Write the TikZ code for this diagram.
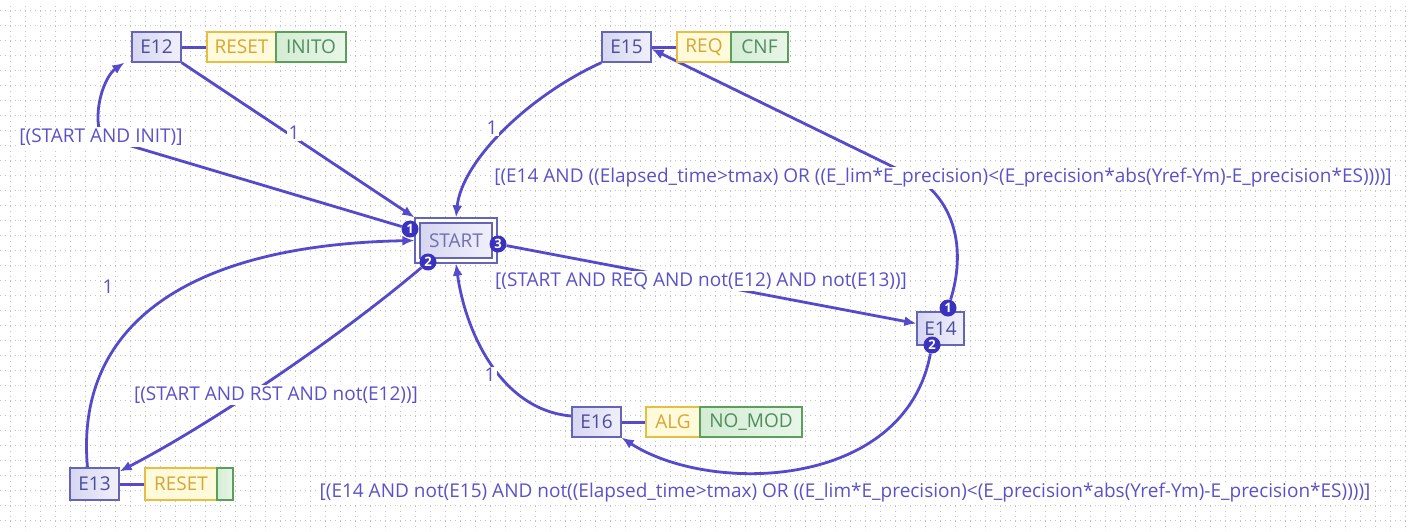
\documentclass[tikz,border=0pt]{standalone}
\usepackage{fontspec}
\setmainfont{Open Sans}
\usetikzlibrary{arrows.meta}

\definecolor{edgec}{HTML}{554ACB}
\definecolor{badgec}{HTML}{3A32BE}
\definecolor{lblc}{HTML}{5B52C9}
\definecolor{stateb}{HTML}{6464B8}
\definecolor{statet}{HTML}{4C4C9C}
\definecolor{stateL}{HTML}{D6D6F2}
\definecolor{stateR}{HTML}{F0F0FB}
\definecolor{yelf}{HTML}{FFFADA}
\definecolor{yelb}{HTML}{E6BE45}
\definecolor{yelt}{HTML}{D9A532}
\definecolor{grnL}{HTML}{D4ECD4}
\definecolor{grnR}{HTML}{E9F6E9}
\definecolor{grnb}{HTML}{5AA05A}
\definecolor{grnt}{HTML}{4E8E5E}
\definecolor{gridc}{HTML}{C4C4C4}

\pgfdeclarelayer{grid}
\pgfdeclarelayer{edges}
\pgfdeclarelayer{labels}
\pgfsetlayers{grid,edges,labels,main}

\tikzset{
  txt/.style={font=\fontsize{19}{22}\selectfont},
  state/.style={txt, draw=stateb, line width=1.3pt, left color=stateL, right color=stateR,
    text=statet, minimum width=49pt, minimum height=30pt, inner sep=0pt},
  actyel/.style={txt, draw=yelb, line width=1.3pt, fill=yelf, text=yelt,
    minimum height=30pt, inner sep=0pt},
  actgrn/.style={txt, draw=grnb, line width=1.3pt, left color=grnL, right color=grnR, text=grnt,
    minimum height=30pt, inner sep=0pt},
  edge/.style={draw=edgec, line width=2.8pt, -{Latex[length=12pt,width=10pt]}},
  link/.style={draw=edgec, line width=3pt},
  lbl/.style={txt, text=lblc, fill=white, inner sep=1.5pt},
  badge/.style={circle, fill=badgec, text=white, inner sep=0pt, minimum size=17pt,
    font=\fontsize{13}{13}\bfseries},
  gridline/.style={draw=gridc, line width=0.7pt, dash pattern=on 0.8pt off 4.2pt},
}

\begin{document}
\begin{tikzpicture}[x=1pt, y=-1pt]
\useasboundingbox (0,0) rectangle (1408,531);

\begin{pgfonlayer}{grid}
\fill[white] (0,0) rectangle (1408,531);
\foreach \gx in {10,25,...,1405} \draw[gridline] (\gx,6) -- (\gx,531);
\foreach \gy in {10,25,...,530} \draw[gridline] (0,\gy) -- (1408,\gy);
\end{pgfonlayer}

% states and their actions
\node[state] (E12) at (156.5,47) {E12};
\node[actyel, minimum width=69pt] (A12r) at (241.5,47) {RESET};
\node[actgrn, minimum width=70pt] (A12i) at (311,47) {INITO};

\node[state] (E15) at (626.5,47) {E15};
\node[actyel, minimum width=54pt] (A15r) at (704,47) {REQ};
\node[actgrn, minimum width=57pt] (A15c) at (759.5,47) {CNF};

\node[draw=stateb, line width=1.3pt, fill=white, minimum width=82pt, minimum height=45pt, inner sep=0pt] (START) at (456,240.5) {};
\node[state, minimum width=72pt, minimum height=35pt, text=statet!80] (STARTin) at (456,240.5) {START};

\node[state, minimum width=47pt, minimum height=33pt] (E14) at (940.5,328.5) {E14};

\node[state] (E16) at (596.5,422) {E16};
\node[actyel, minimum width=54pt] (A16a) at (673,422) {ALG};
\node[actgrn, minimum width=102pt] (A16n) at (751,422) {NO\_MOD};

\node[state, minimum height=32pt] (E13) at (94.5,484) {E13};
\node[actyel, minimum width=72pt, minimum height=32pt] (A13r) at (181,484) {RESET};
\node[actgrn, minimum width=16pt, minimum height=32pt] (A13g) at (225,484) {};

% priority badges
\node[badge] (sb1) at (410,229) {1};
\node[badge] (sb2) at (428,262) {2};
\node[badge] (sb3) at (498,244) {3};
\node[badge] (eb1) at (948,308) {1};
\node[badge] (eb2) at (932,345) {2};

% transitions
\begin{pgfonlayer}{edges}
\coordinate (cInit) at (101,137);
\draw[edge] (sb1) -- (cInit) .. controls (92,110) and (105,76) .. ([xshift=-7pt]E12.south west);
\draw[edge] (E12.south east) -- (START.north west);
\draw[edge] (E15.south west) .. controls (530,95) and (462,160) .. (START.north);
\coordinate (cLong) at (920,180);
\draw[edge] (eb1) .. controls (966,250) and (955,205) .. (cLong) -- ([yshift=-2pt]E15.east);
\draw[edge] (sb3) -- ([yshift=5pt]E14.west);
\draw[edge] (eb2) .. controls (905,490) and (710,495) .. (E16.south east);
\draw[edge] ([yshift=6pt]E16.west) .. controls (500,410) and (465,330) .. (START.south);
\draw[edge] (sb2) .. controls (330,345) and (200,430) .. ([yshift=-4pt]E13.north east);
\draw[edge] ([xshift=-7pt]E13.north) .. controls (75,330) and (180,245) .. (START.west);

% action links
\draw[link] (E12.east) -- (A12r.west);
\draw[link] (E15.east) -- (A15r.west);
\draw[link] (E16.east) -- (A16a.west);
\draw[link] (E13.east) -- (A13r.west);
\end{pgfonlayer}

% transition labels
\begin{pgfonlayer}{labels}
\node[lbl] (l1) at (294,133) {1};
\node[lbl] (l2) at (101,137) {[(START AND INIT)]};
\node[lbl] (l3) at (492,128) {1};
\node[lbl] (l4) at (943,178) {[(E14 AND ((Elapsed\_time>tmax) OR ((E\_lim*E\_precision)<(E\_precision*abs(Yref-Ym)-E\_precision*ES))))]};
\node[lbl] (l5) at (701,281) {[(START AND REQ AND not(E12) AND not(E13))]};
\node[lbl] (l6) at (108,287) {1};
\node[lbl] (l7) at (276,395) {[(START AND RST AND not(E12))]};
\node[lbl] (l8) at (490,375) {1};
\node[lbl] (l9) at (845,493) {[(E14 AND not(E15) AND not((Elapsed\_time>tmax) OR ((E\_lim*E\_precision)<(E\_precision*abs(Yref-Ym)-E\_precision*ES))))]};
\end{pgfonlayer}
\end{tikzpicture}
\end{document}
